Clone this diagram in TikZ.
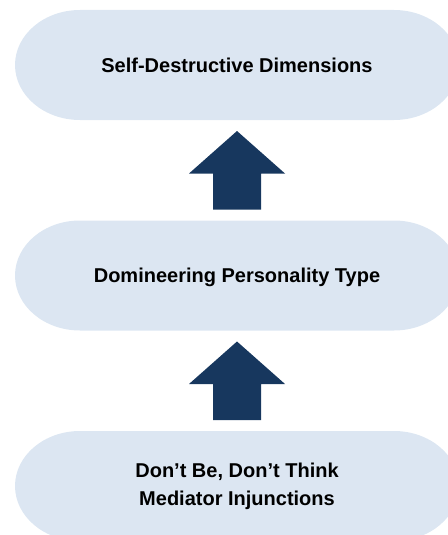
\documentclass[tikz,border=0pt]{standalone}
\usepackage{fontspec}
\setmainfont{Liberation Sans}
\definecolor{PillBlue}{RGB}{220,230,242}
\definecolor{NavyBlue}{RGB}{23,55,94}
\usetikzlibrary{calc,backgrounds}
\tikzset{>=latex}

\begin{document}
\begin{tikzpicture}[x=1pt,y=1pt,
        level/.style={rectangle,minimum width=444,minimum height=110,outer sep=0pt,
            align=center,font=\fontsize{20}{28}\selectfont\bfseries},
        uparrow/.style={fill=NavyBlue}]
        \useasboundingbox (0,0) rectangle (447,-535);
        % the three levels
        \node[level] at (237,-65) (top) {Self-Destructive Dimensions};
        \node[level,text depth=0pt] at (237,-275.5) (mid) {Domineering Personality Type};
        \node[level] at (237,-486) (bot) {Don’t Be, Don’t Think\\Mediator Injunctions};
        \begin{scope}[on background layer]
            \foreach \n in {top,mid,bot}
                \fill[PillBlue] ($(\n.north west)+(65,0)$) -- ($(\n.north east)+(-65,0)$)
                    arc[start angle=90,end angle=-90,x radius=65,y radius=55]
                    -- ($(\n.south west)+(65,0)$)
                    arc[start angle=270,end angle=90,x radius=65,y radius=55] -- cycle;
        \end{scope}
        % block arrows going up
        \foreach \a/\b in {mid/top,bot/mid}
            \fill[uparrow] ($(\a.north)+(-24,11)$) -- ++(0,36) -- ++(-24,0)
                -- ($(\b.south)+(0,-11)$) -- ($(\a.north)+(48,47)$) -- ++(-24,0)
                -- ++(0,-36) -- cycle;
    \end{tikzpicture}
\end{document}
